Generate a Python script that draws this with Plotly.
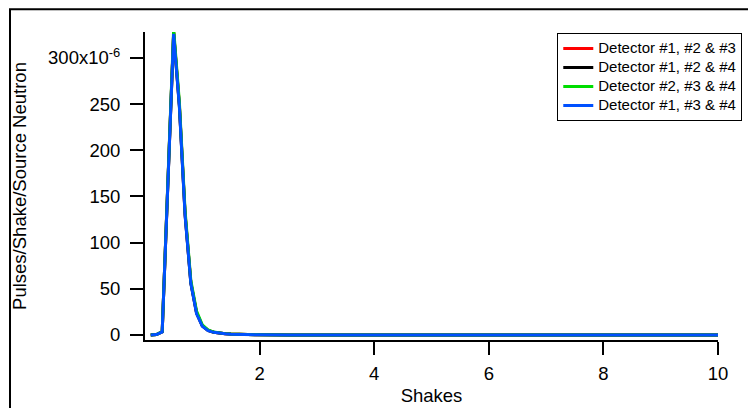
import plotly.graph_objects as go

# Shakes (x) and Pulses/Shake/Source Neutron in units of 1e-6
shakes = [0.1, 0.2, 0.3, 0.4, 0.5, 0.6, 0.7, 0.8, 0.9, 1.0, 1.1, 1.2, 1.3, 1.4,
          1.5, 1.6, 1.8, 2.0, 2.5, 3.0, 4.0, 5.0, 6.0, 7.0, 8.0, 9.0, 10.0]

det_123 = [0.0, 0.5, 3.5, 166, 328, 249, 131, 57, 24, 10, 5.0, 3.0, 2.0, 1.4,
           1.0, 0.7, 0.4, 0.25, 0.1, 0.05, 0.02, 0.01, 0.0, 0.0, 0.0, 0.0, 0.0]
det_124 = [0.0, 0.5, 3.4, 165, 327, 248, 130, 56, 24, 10, 5.0, 3.0, 2.0, 1.4,
           1.0, 0.7, 0.4, 0.25, 0.1, 0.05, 0.02, 0.01, 0.0, 0.0, 0.0, 0.0, 0.0]
det_234 = [0.0, 0.6, 3.8, 168, 331, 252, 134, 59, 26, 11, 5.5, 3.2, 2.1, 1.5,
           1.1, 0.8, 0.45, 0.3, 0.12, 0.06, 0.02, 0.01, 0.0, 0.0, 0.0, 0.0, 0.0]
det_134 = [0.0, 0.5, 3.3, 164, 326, 247, 129, 56, 23, 9.5, 4.8, 2.9, 1.9, 1.3,
           0.95, 0.65, 0.4, 0.24, 0.1, 0.05, 0.02, 0.01, 0.0, 0.0, 0.0, 0.0, 0.0]

series = [
    ("Detector #1, #2 & #3", det_123, "#ff0000"),
    ("Detector #1, #2 & #4", det_124, "#000000"),
    ("Detector #2, #3 & #4", det_234, "#00dd00"),
    ("Detector #1, #3 & #4", det_134, "#0050ff"),
]

x_ticks = [2, 4, 6, 8, 10]
y_ticks = [0, 50, 100, 150, 200, 250, 300]
y_ticktext = ["0", "50", "100", "150", "200", "250", "300x10<sup>-6</sup>"]

fig = go.Figure()
for name, vals, col in series:
    # bigger text inside a small legend font keeps the rows tight
    fig.add_trace(go.Scatter(x=shakes, y=vals, mode="lines",
                             name='<span style="font-size:15px">' + name + '</span>',
                             line=dict(color=col, width=3)))

fig.update_layout(
    width=748, height=400,
    margin=dict(l=137, r=38, t=24, b=68),
    paper_bgcolor="white", plot_bgcolor="white",
    font=dict(family="Liberation Sans, Arial, sans-serif", size=18.5, color="black"),
    legend=dict(x=0.7195, y=0.997, xanchor="left", yanchor="top",
                bgcolor="white", bordercolor="black", borderwidth=1,
                font=dict(size=11), itemwidth=30, tracegroupgap=0),
    shapes=[dict(type="rect", xref="paper", yref="paper",
                 x0=-0.2356, x1=1.2, y0=-0.4, y1=1.0736,
                 line=dict(color="black", width=2), layer="below")],
)
fig.update_xaxes(range=[0, 10], tickvals=x_ticks, ticks="outside", automargin=False,
                 ticklen=13, tickwidth=1.5, tickcolor="black", ticklabelstandoff=3,
                 tickfont=dict(size=18.5),
                 showline=True, linecolor="black", linewidth=2,
                 showgrid=False, zeroline=False,
                 title=dict(text="Shakes", font=dict(size=18.5), standoff=6))
fig.update_yaxes(range=[-5.4, 328], tickvals=y_ticks, ticktext=y_ticktext,
                 ticks="outside", ticklen=13, tickwidth=1.5, tickcolor="black",
                 ticklabelstandoff=6, tickfont=dict(size=18.5), automargin=False,
                 showline=True, linecolor="black", linewidth=2,
                 showgrid=False, zeroline=False,
                 title=dict(text="Pulses/Shake/Source Neutron", font=dict(size=18.5),
                            standoff=17))

fig.write_html("out.html")
